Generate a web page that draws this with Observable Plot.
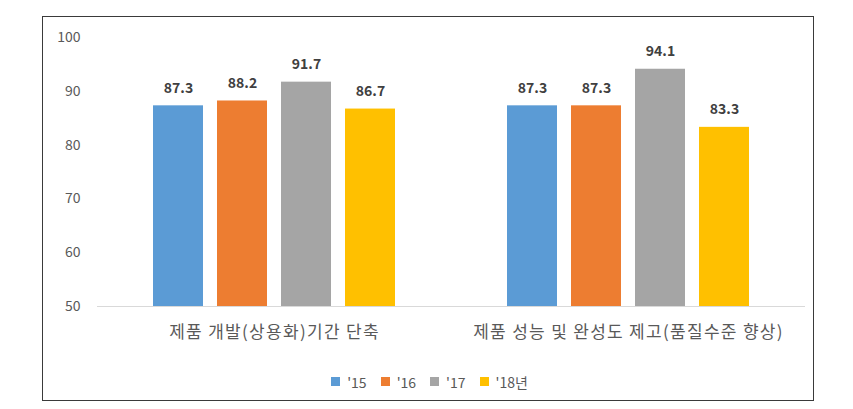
<!DOCTYPE html>
<html>
<head>
<meta charset="utf-8">
<script src="https://cdn.jsdelivr.net/npm/d3@7"></script>
<script src="https://cdn.jsdelivr.net/npm/@observablehq/plot@0.6"></script>
<style>
  html, body { margin: 0; padding: 0; background: #fff; }
  #wrap { position: relative; width: 853px; height: 409px; font-family: "Noto Sans CJK KR", "Noto Sans", sans-serif; }
  #frame { position: absolute; left: 42px; top: 16px; width: 770px; height: 383px; border: 1px solid #3a3a3a; }
  #chart { position: absolute; left: 0; top: 0; }
  #legend { position: absolute; left: 10px; top: 365px; width: 853px; display: flex; justify-content: center; }
  g[aria-label="fx-axis tick label"] text { letter-spacing: 1.3px; }
</style>
</head>
<body>
<div id="wrap">
  <div id="frame"></div>
  <div id="chart"></div>
  <div id="legend"></div>
</div>
<script>
const categories = ["제품 개발(상용화)기간 단축", "제품 성능 및 완성도 제고(품질수준 향상)"];
const years = ["'15", "'16", "'17", "'18년"];
const colors = ["#5B9BD5", "#ED7D31", "#A5A5A5", "#FFC000"];
const values15 = [87.3, 87.3];
const values16 = [88.2, 87.3];
const values17 = [91.7, 94.1];
const values18 = [86.7, 83.3];
const yTicks = [50, 60, 70, 80, 90, 100];

const series = [values15, values16, values17, values18];
const data = [];
categories.forEach((c, i) => {
  years.forEach((y, j) => data.push({cat: c, year: y, value: series[j][i]}));
});

const font = '"Noto Sans CJK KR", "Noto Sans", sans-serif';

const chart = Plot.plot({
  width: 853,
  height: 350,
  marginLeft: 97,
  marginRight: 48,
  marginTop: 37,
  marginBottom: 44,
  style: {fontFamily: font, fontSize: "14px", color: "#595959", background: "transparent"},
  fx: {domain: categories, padding: 0, label: null},
  x: {domain: years, paddingInner: 0.22, paddingOuter: 0.875, axis: null},
  y: {domain: [50, 100], ticks: yTicks, label: null},
  color: {domain: years, range: colors},
  marks: [
    Plot.axisY({ticks: yTicks, tickSize: 0, tickPadding: 17, fontSize: 14, fill: "#595959", label: null}),
    Plot.axisFx({anchor: "bottom", tickSize: 0, tickPadding: 19, fontSize: 17, fill: "#595959", label: null}),
    Plot.ruleY([50], {stroke: "#d9d9d9", strokeWidth: 1.2}),
    Plot.barY(data, {fx: "cat", x: "year", y1: 50, y2: "value", fill: "year"}),
    Plot.text(data, {fx: "cat", x: "year", y: "value", text: d => d.value.toFixed(1), dy: -13, lineAnchor: "bottom", fontWeight: "bold", fontSize: 14, fill: "#404040"})
  ]
});
document.getElementById("chart").appendChild(chart);

const legend = Plot.legend({
  color: {domain: years, range: colors},
  legend: "swatches",
  swatchSize: 9,
  style: {fontFamily: font, fontSize: "14px", color: "#595959"}
});
document.getElementById("legend").appendChild(legend);
</script>
</body>
</html>
